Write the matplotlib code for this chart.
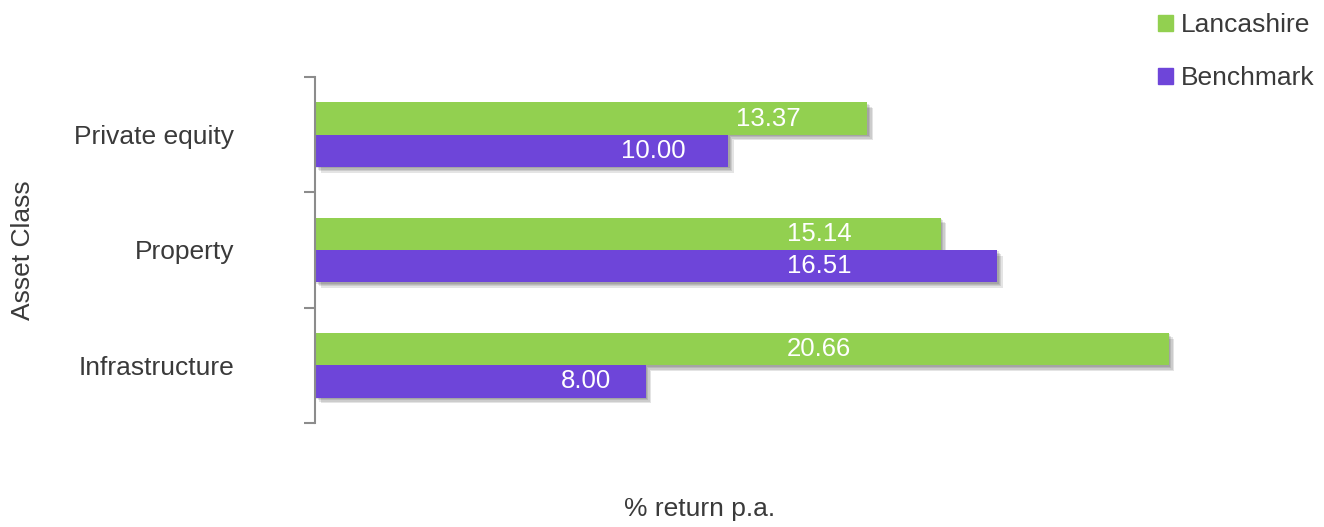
import numpy as np
import matplotlib.pyplot as plt
import matplotlib.patheffects as pe
from matplotlib.patches import Patch

plt.rcParams['font.family'] = ['Liberation Sans', 'DejaVu Sans']

# data
categories = ['Private equity', 'Property', 'Infrastructure']
lancashire = [13.37, 15.14, 20.66]
benchmark = [10.00, 16.51, 8.00]
series_names = ['Lancashire', 'Benchmark']

green = '#92D050'
purple = '#6E45D9'
text_col = '#3a3a3a'

fig = plt.figure(figsize=(13.24, 5.27), dpi=100)
ax = fig.add_axes([315 / 1324, 104 / 527, 909 / 1324, 346 / 527])

y = np.arange(len(categories))[::-1]  # first category on top
h = 0.28
# soft drop shadow built from a few faint offset copies
shadow = [pe.SimplePatchShadow(offset=(k, -k), shadow_rgbFace='#222222', alpha=0.12)
          for k in (4, 3, 2, 1)] + [pe.Normal()]

bars_l = ax.barh(y + h / 2, lancashire, height=h, color=green, path_effects=shadow, zorder=2)
bars_b = ax.barh(y - h / 2, benchmark, height=h, color=purple, path_effects=shadow, zorder=2)

# value labels inside the bars
for bars, vals in [(bars_l, lancashire), (bars_b, benchmark)]:
    for b, v in zip(bars, vals):
        cy = b.get_y() + b.get_height() / 2
        ax.text(min(0.82 * v, 12.2), cy, f'{v:.2f}', ha='center', va='center',
                color='white', fontsize=18.5, zorder=3)

ax.set_xlim(0, 22)
ax.set_ylim(-0.5, len(categories) - 0.5)

ax.set_yticks(y)
ax.set_yticklabels(categories, fontsize=19, color=text_col)
ax.tick_params(axis='y', which='major', length=0, pad=58)
ax.set_yticks(np.arange(-0.5, len(categories)), minor=True)
ax.tick_params(axis='y', which='minor', length=8, width=1.5, color='#8c8c8c')
ax.set_xticks([])

for s in ['top', 'right', 'bottom']:
    ax.spines[s].set_visible(False)
ax.spines['left'].set_color('#8c8c8c')
ax.spines['left'].set_linewidth(1.5)

ax.set_xlabel('% return p.a.', fontsize=19, color=text_col)
ax.xaxis.set_label_coords((700 - 315) / 909, -(497 - 423) / 346)
ax.set_ylabel('Asset Class', fontsize=19, color=text_col)
ax.yaxis.set_label_coords((35 - 315) / 909, 0.5)

handles = [Patch(color=green, label=series_names[0]), Patch(color=purple, label=series_names[1])]
fig.legend(handles=handles, loc='upper left', bbox_to_anchor=(1145 / 1324, 1),
           frameon=False, fontsize=19, handlelength=0.55, handleheight=0.55,
           handletextpad=0.3, labelspacing=1.1, borderpad=0, labelcolor=text_col)

fig.savefig('out.png', dpi=100)
